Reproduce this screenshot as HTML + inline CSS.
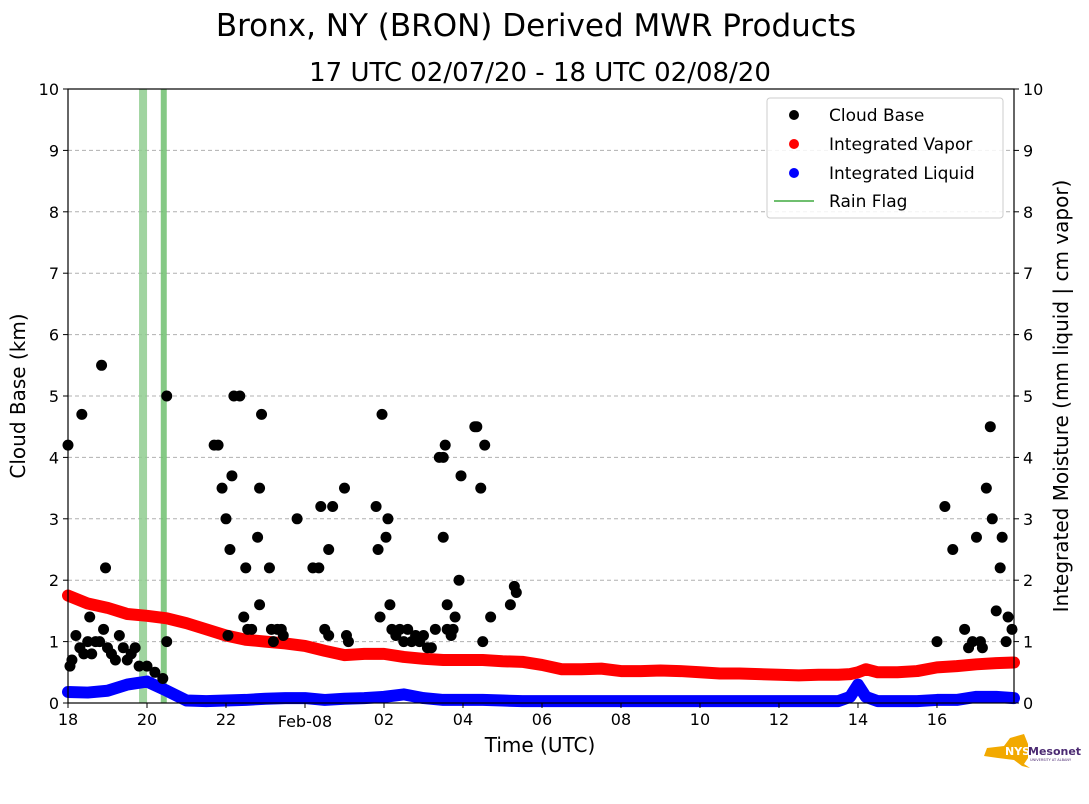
<!DOCTYPE html>
<html><head><meta charset="utf-8">
<style>
body{margin:0;background:#fff;}
svg{display:block;font-family:"DejaVu Sans","Liberation Sans",sans-serif;}
</style></head>
<body>
<svg id="chart" width="1089" height="804" viewBox="0 0 1089 804">
<text x="536" y="36" font-size="31" text-anchor="middle">Bronx, NY (BRON) Derived MWR Products</text>
<text x="540" y="81" font-size="26" text-anchor="middle">17 UTC 02/07/20 - 18 UTC 02/08/20</text>
<g id="grid"></g>
<g id="rain"></g>
<g id="series"></g>
<rect x="68" y="89" width="946" height="614" fill="none" stroke="#000" stroke-width="1.2"/>
<g id="axes"></g>
<text x="540" y="752" font-size="20" text-anchor="middle">Time (UTC)</text>
<text transform="translate(25,396) rotate(-90)" font-size="20" text-anchor="middle">Cloud Base (km)</text>
<text transform="translate(1068,396) rotate(-90)" font-size="20" text-anchor="middle">Integrated Moisture (mm liquid | cm vapor)</text>
<g>
<rect x="767" y="98" width="236" height="120" rx="3" fill="#fff" fill-opacity="0.85" stroke="#ccc"/>
<circle cx="794" cy="115" r="5" fill="#000"/><text x="829" y="121" font-size="17">Cloud Base</text>
<circle cx="794" cy="144" r="5" fill="red"/><text x="829" y="150" font-size="17">Integrated Vapor</text>
<circle cx="794" cy="173" r="5" fill="blue"/><text x="829" y="179" font-size="17">Integrated Liquid</text>
<line x1="774" y1="201" x2="814" y2="201" stroke="#6fbf6f" stroke-width="2"/><text x="829" y="207" font-size="17">Rain Flag</text>
</g>
<g>
<path d="M987 748 L1004 746 L1010 738 L1024 734 L1028 744 L1028 758 L1024 764 L1030 768 L1022 766 L1014 760 L998 758 L984 756 Z" fill="#f2a900"/>
<text x="1005" y="755" font-size="11" font-weight="bold" fill="#fff">NYS</text>
<text x="1028" y="755" font-size="11" font-weight="bold" fill="#4b2a72">Mesonet</text>
<text x="1030" y="761" font-size="3.5" fill="#4b2a72">UNIVERSITY AT ALBANY</text>
</g>
</svg>
<script>
const NS="http://www.w3.org/2000/svg";
const X0=68,X1=1014,Y0=703,Y1=89,HMAX=23.95;
const xs=h=>X0+(h/HMAX)*(X1-X0);
const ys=v=>Y0-(v/10)*(Y0-Y1);
const yTicks=[0,1,2,3,4,5,6,7,8,9,10];
const xTickHours=[0,2,4,6,8,10,12,14,16,18,20,22];
const xTickLabels=["18","20","22","Feb-08","02","04","06","08","10","12","14","16"];
const rainFlags=[1.9,2.45];
const cloudHours=[0,0.05,0.1,0.2,0.3,0.35,0.4,0.5,0.55,0.6,0.7,0.8,0.85,0.9,0.95,1.0,1.1,1.2,1.3,1.4,1.5,1.6,1.7,1.8,2.0,2.2,2.4,2.5,2.5,3.7,3.8,3.9,4.0,4.05,4.1,4.15,4.2,4.35,4.45,4.5,4.55,4.65,4.8,4.85,4.9,4.85,5.1,5.15,5.2,5.3,5.4,5.45,5.8,6.2,6.35,6.4,6.5,6.6,6.6,6.7,7.0,7.05,7.1,7.8,7.85,7.9,7.95,8.1,8.05,8.15,8.2,8.3,8.4,8.5,8.6,8.7,8.8,8.9,9.0,9.1,9.2,9.3,9.4,9.5,9.5,9.55,9.6,9.6,9.7,9.75,9.8,9.9,9.95,10.3,10.35,10.45,10.5,10.55,10.7,11.2,11.3,11.35,22.0,22.2,22.4,22.7,22.8,22.9,23.0,23.1,23.15,23.25,23.35,23.4,23.5,23.6,23.65,23.75,23.8,23.9];
const cloudKm=[4.2,0.6,0.7,1.1,0.9,4.7,0.8,1.0,1.4,0.8,1.0,1.0,5.5,1.2,2.2,0.9,0.8,0.7,1.1,0.9,0.7,0.8,0.9,0.6,0.6,0.5,0.4,1.0,5.0,4.2,4.2,3.5,3.0,1.1,2.5,3.7,5.0,5.0,1.4,2.2,1.2,1.2,2.7,3.5,4.7,1.6,2.2,1.2,1.0,1.2,1.2,1.1,3.0,2.2,2.2,3.2,1.2,1.1,2.5,3.2,3.5,1.1,1.0,3.2,2.5,1.4,4.7,3.0,2.7,1.6,1.2,1.1,1.2,1.0,1.2,1.0,1.1,1.0,1.1,0.9,0.9,1.2,4.0,4.0,2.7,4.2,1.6,1.2,1.1,1.2,1.4,2.0,3.7,4.5,4.5,3.5,1.0,4.2,1.4,1.6,1.9,1.8,1.0,3.2,2.5,1.2,0.9,1.0,2.7,1.0,0.9,3.5,4.5,3.0,1.5,2.2,2.7,1.0,1.4,1.2];
const moistHours=[0,0.5,1,1.5,2,2.5,3,3.5,4,4.5,5,5.5,6,6.5,7,7.5,8,8.5,9,9.5,10,10.5,11,11.5,12,12.5,13,13.5,14,14.5,15,15.5,16,16.5,17,17.5,18,18.5,19,19.5,19.8,20,20.2,20.5,21,21.5,22,22.5,23,23.5,23.95];
const vapor=[1.75,1.62,1.55,1.45,1.42,1.38,1.3,1.2,1.1,1.03,1.0,0.97,0.93,0.85,0.78,0.8,0.8,0.75,0.72,0.7,0.7,0.7,0.68,0.67,0.62,0.55,0.55,0.56,0.52,0.52,0.53,0.52,0.5,0.48,0.48,0.47,0.46,0.45,0.46,0.46,0.47,0.5,0.55,0.5,0.5,0.52,0.58,0.6,0.63,0.65,0.66];
const liquid=[0.18,0.17,0.2,0.3,0.35,0.2,0.04,0.03,0.04,0.05,0.07,0.08,0.08,0.05,0.07,0.08,0.1,0.14,0.08,0.05,0.05,0.05,0.04,0.03,0.03,0.03,0.03,0.03,0.03,0.03,0.03,0.03,0.03,0.03,0.03,0.03,0.03,0.03,0.03,0.03,0.1,0.3,0.1,0.03,0.03,0.03,0.05,0.05,0.1,0.1,0.08];

function mk(tag,attrs,parent){const e=document.createElementNS(NS,tag);for(const k in attrs)e.setAttribute(k,attrs[k]);parent.appendChild(e);return e;}
const grid=document.getElementById('grid'),axes=document.getElementById('axes'),rain=document.getElementById('rain'),ser=document.getElementById('series');
yTicks.forEach(v=>{
  const y=ys(v);
  if(v>0&&v<10){const g=mk('line',{x1:X0,x2:X1,y1:y,y2:y,stroke:'#b0b0b0','stroke-dasharray':'4,3','stroke-width':1},grid);
  
  }
  mk('line',{x1:X0-5,x2:X0,y1:y,y2:y,stroke:'#000'},axes);
  mk('line',{x1:X1,x2:X1+5,y1:y,y2:y,stroke:'#000'},axes);
  const t1=mk('text',{x:X0-9,y:y+6,'font-size':16,'text-anchor':'end'},axes);t1.textContent=v;
  
  
  const t2=mk('text',{x:X1+9,y:y+6,'font-size':16},axes);t2.textContent=v;
  
  
});
xTickHours.forEach((h,i)=>{
  const x=xs(h);
  mk('line',{x1:x,x2:x,y1:Y0,y2:Y0+5,stroke:'#000'},axes);
  const t=mk('text',{x:x,y:Y0+(i==3?24:22),'font-size':16,'text-anchor':'middle'},axes);t.textContent=xTickLabels[i];
  
  
});
rainFlags.forEach((h,i)=>{
  const r=mk('rect',{x:xs(h)-4,y:Y1,width:i?6:8,height:Y0-Y1,fill:i?'#70bf70':'#8fcc8f','fill-opacity':0.85},rain);
  
  
});
function line(vals,color,name){
  const pts=moistHours.map((h,i)=>xs(h)+','+ys(vals[i])).join(' ');
  const p=mk('polyline',{points:pts,fill:'none',stroke:color,'stroke-width':12,'stroke-linejoin':'round','stroke-linecap':'round'},ser);
  
  
}
line(liquid,'blue','integrated-liquid-series');
line(vapor,'red','integrated-vapor-series');
cloudHours.forEach((h,i)=>{
  const c=mk('circle',{cx:xs(h),cy:ys(cloudKm[i]),r:5.5,fill:'#000'},ser);
  
  
});
</script>
</body></html>
